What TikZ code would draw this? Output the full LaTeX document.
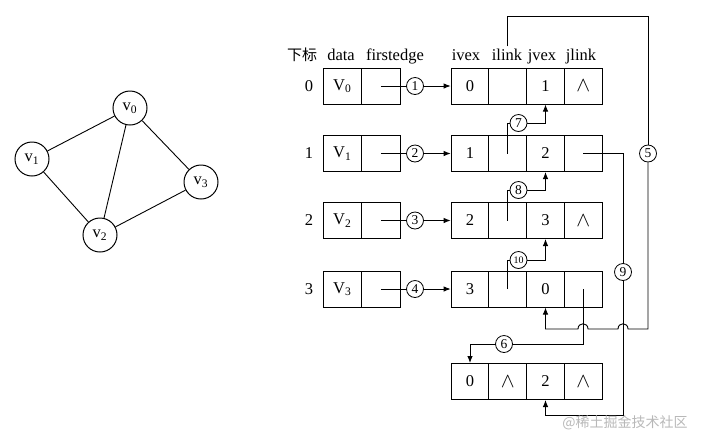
\documentclass[tikz,border=0pt]{standalone}
\usepackage{fontspec}
\setmainfont{Liberation Serif}
\newfontfamily\cjk{Noto Sans CJK SC}
\usetikzlibrary{arrows.meta}
\begin{document}
\begin{tikzpicture}[x=1pt,y=-1pt,
  base/.style={font=\fontsize{16.5}{19}\selectfont, inner sep=0pt},
  cell/.style={draw, line width=1pt, minimum width=37.75pt, minimum height=36pt, inner sep=0pt, font=\fontsize{16.5}{19}\selectfont},
  vcell/.style={cell, minimum width=38.5pt},
  lab/.style={circle, draw, line width=0.8pt, fill=white, minimum size=17pt, inner sep=0pt, font=\fontsize{13.5}{14}\selectfont},
  hdr/.style={anchor=base, font=\fontsize{16.5}{19}\selectfont, inner sep=0pt},
  vtx/.style={circle, draw, line width=1pt, minimum size=34pt, inner sep=0pt, font=\fontsize{16.5}{19}\selectfont},
  conn/.style={line width=0.9pt},
  arr/.style={conn, -{Latex[length=7pt,width=5.5pt]}},
]
\useasboundingbox (0,0) rectangle (714,440);
\newcommand{\nil}{{\fontsize{22}{22}\selectfont$\wedge$}}

% left graph
\node[vtx] (g0) at (130,108) {v\textsubscript{0}};
\node[vtx] (g1) at (32,159) {v\textsubscript{1}};
\node[vtx] (g2) at (100,235) {v\textsubscript{2}};
\node[vtx] (g3) at (201,182) {v\textsubscript{3}};
\draw[conn] (g0) -- (g1);
\draw[conn] (g0) -- (g2);
\draw[conn] (g0) -- (g3);
\draw[conn] (g1) -- (g2);
\draw[conn] (g2) -- (g3);

% headers
\node[hdr, font=\fontsize{15}{18}\selectfont\cjk] (hidx) at (302,60) {下标};
\node[hdr] (hdata) at (341,60) {data};
\node[hdr] (hfirst) at (395,60) {firstedge};
\node[hdr] (hivex) at (466,60) {ivex};
\node[hdr] (hilink) at (507,60) {ilink};
\node[hdr] (hjvex) at (542,60) {jvex};
\node[hdr] (hjlink) at (581,60) {jlink};

% index labels
\node[base] (i0) at (309,86) {0};
\node[base] (i1) at (309,153.5) {1};
\node[base] (i2) at (309,220.5) {2};
\node[base] (i3) at (309,289) {3};

% vertex cells
\node[vcell] (v0a) at (342.25,86) {V\textsubscript{0}};
\node[vcell] (v0b) at (380.75,86) {};
\node[vcell] (v1a) at (342.25,153.5) {V\textsubscript{1}};
\node[vcell] (v1b) at (380.75,153.5) {};
\node[vcell] (v2a) at (342.25,220.5) {V\textsubscript{2}};
\node[vcell] (v2b) at (380.75,220.5) {};
\node[vcell] (v3a) at (342.25,289) {V\textsubscript{3}};
\node[vcell] (v3b) at (380.75,289) {};

% edge cells
\node[cell] (e0-1) at (470,86) {0};
\node[cell] (e0-2) at (507.75,86) {};
\node[cell] (e0-3) at (545.5,86) {1};
\node[cell] (e0-4) at (583.25,86) {\nil};
\node[cell] (e1-1) at (470,153.5) {1};
\node[cell] (e1-2) at (507.75,153.5) {};
\node[cell] (e1-3) at (545.5,153.5) {2};
\node[cell] (e1-4) at (583.25,153.5) {};
\node[cell] (e2-1) at (470,220.5) {2};
\node[cell] (e2-2) at (507.75,220.5) {};
\node[cell] (e2-3) at (545.5,220.5) {3};
\node[cell] (e2-4) at (583.25,220.5) {\nil};
\node[cell] (e3-1) at (470,289) {3};
\node[cell] (e3-2) at (507.75,289) {};
\node[cell] (e3-3) at (545.5,289) {0};
\node[cell] (e3-4) at (583.25,289) {};
\node[cell] (eb-1) at (470,381.5) {0};
\node[cell] (eb-2) at (507.75,381.5) {\nil};
\node[cell] (eb-3) at (545.5,381.5) {2};
\node[cell] (eb-4) at (583.25,381.5) {\nil};

% firstedge arrows
\node[lab] (c1) at (415,86) {1};
\node[lab] (c2) at (415,153.5) {2};
\node[lab] (c3) at (415,220.5) {3};
\node[lab] (c4) at (415,289) {4};
\draw[conn] (v0b.center) -- (c1); \draw[arr] (c1) -- (e0-1);
\draw[conn] (v1b.center) -- (c2); \draw[arr] (c2) -- (e1-1);
\draw[conn] (v2b.center) -- (c3); \draw[arr] (c3) -- (e2-1);
\draw[conn] (v3b.center) -- (c4); \draw[arr] (c4) -- (e3-1);

% ilink arrows 7, 8, 10
\node[lab] (c7) at (518.5,123) {7};
\node[lab] (c8) at (518.5,190) {8};
\node[lab, font=\fontsize{10}{10}\selectfont] (c10) at (518.5,260) {10};
\draw[conn] (e1-2.center) |- (c7); \draw[arr] (c7) -| (e0-3.south);
\draw[conn] (e2-2.center) |- (c8); \draw[arr] (c8) -| (e1-3.south);
\draw[conn] (e3-2.center) |- (c10); \draw[arr] (c10) -| (e2-3.south);

% link 5
\node[lab] (c5) at (648,153.5) {5};
\coordinate (t5) at (648,16);
\coordinate (b5) at (648,329);
\draw[conn] (hilink.north) ++(0,-2) |- (t5) -- (c5);
\draw[arr] (c5) -- (b5) -- (628,329) .. controls (628,322) and (618,322) .. (618,329)
  -- (588,329) .. controls (588,322) and (578,322) .. (578,329) -| (e3-3.south);

% link 9
\node[lab] (c9) at (623,272) {9};
\coordinate (b9) at (623,415);
\draw[conn] (e1-4.center) -| (c9);
\draw[arr] (c9) -- (b9) -| (eb-3.south);

% link 6
\node[lab] (c6) at (504,344) {6};
\draw[conn] (e3-4.center) |- (c6);
\draw[arr] (c6) -| (eb-1.north);

% watermark
\node[font=\fontsize{14}{16}\selectfont\cjk, text=black!28, inner sep=0pt] (wm) at (625,423) {@稀土掘金技术社区};
\end{tikzpicture}
\end{document}
